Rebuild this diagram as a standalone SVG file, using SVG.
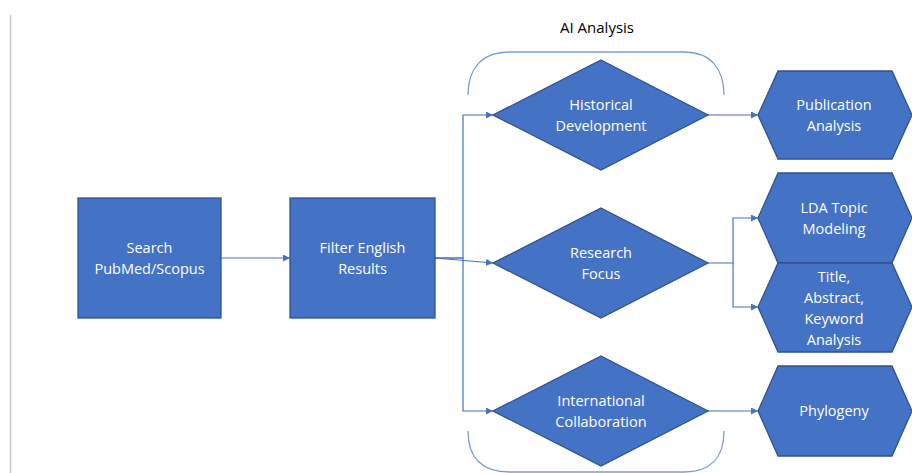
<svg xmlns="http://www.w3.org/2000/svg" width="912" height="473" viewBox="0 0 912 473">
<defs>
<marker id="ah" viewBox="0 0 10 10" refX="10" refY="5" markerWidth="7" markerHeight="7" markerUnits="userSpaceOnUse" orient="auto"><path d="M0,0 L10,5 L0,10 z" fill="#4472C4"/></marker>
<style>
.n{fill:#4472C4;stroke:#2F528F;stroke-width:1.3}
.t{font-family:"Open Sans","Noto Sans","Liberation Sans",sans-serif;font-size:14.5px;fill:#ffffff;text-anchor:middle}
.c{fill:none;stroke:#4472C4;stroke-width:1.2}
.b{fill:none;stroke:#7A9BD6;stroke-width:1.3}
</style>
</defs>
<rect width="912" height="473" fill="#ffffff"/>
<line x1="10.5" y1="15" x2="10.5" y2="473" stroke="#c8c8c8" stroke-width="1.5"/>
<text x="597" y="33" font-family="'Open Sans','Noto Sans','Liberation Sans',sans-serif" font-size="15" fill="#000" text-anchor="middle">AI Analysis</text>
<g id="braces">
<path class="b" d="M468,95 C468,68 482,52 510,52 L684,52 C710,52 724,68 724,95"/>
<path class="b" d="M468,431 C468,458 482,472 510,472 L684,472 C710,472 724,458 724,431"/>
</g>
<g id="connectors">
<path class="c" d="M221,258 L290,258" marker-end="url(#ah)"/>
<path class="c" d="M435,258 L463,258 L463,115 L493,115" marker-end="url(#ah)"/>
<path class="c" d="M435,258 L493,263" marker-end="url(#ah)"/>
<path class="c" d="M435,258 L463,258 L463,411 L493,411" marker-end="url(#ah)"/>
<path class="c" d="M708,115 L758,115" marker-end="url(#ah)"/>
<path class="c" d="M708,263 L733,263 L733,218 L758,218" marker-end="url(#ah)"/>
<path class="c" d="M733,263 L733,307 L758,307" marker-end="url(#ah)"/>
<path class="c" d="M708,411 L758,411" marker-end="url(#ah)"/>
</g>
<g id="search">
<rect class="n" x="78" y="198" width="143" height="120"/>
<text class="t" x="149.5" y="253">Search</text>
<text class="t" x="149.5" y="274">PubMed/Scopus</text>
</g>
<g id="filter">
<rect class="n" x="290" y="198" width="145" height="120"/>
<text class="t" x="362.5" y="253">Filter English</text>
<text class="t" x="362.5" y="274">Results</text>
</g>
<g id="historical">
<polygon class="n" points="601,60 708,115 601,170 493,115"/>
<text class="t" x="601" y="110">Historical</text>
<text class="t" x="601" y="131">Development</text>
</g>
<g id="research">
<polygon class="n" points="601,208 708,263 601,318 493,263"/>
<text class="t" x="601" y="258">Research</text>
<text class="t" x="601" y="279">Focus</text>
</g>
<g id="international">
<polygon class="n" points="601,356 708,411 601,466 493,411"/>
<text class="t" x="601" y="406">International</text>
<text class="t" x="601" y="427">Collaboration</text>
</g>
<g id="publication">
<polygon class="n" points="758,115 778,71 892,71 912,115 892,159 778,159"/>
<text class="t" x="834" y="110">Publication</text>
<text class="t" x="834" y="131">Analysis</text>
</g>
<g id="lda">
<polygon class="n" points="758,218 778,173 892,173 912,218 892,263 778,263"/>
<text class="t" x="834" y="213">LDA Topic</text>
<text class="t" x="834" y="234">Modeling</text>
</g>
<g id="title">
<polygon class="n" points="758,307 778,263 892,263 912,307 892,352 778,352"/>
<text class="t" x="834" y="282">Title,</text>
<text class="t" x="834" y="303">Abstract,</text>
<text class="t" x="834" y="324">Keyword</text>
<text class="t" x="834" y="345">Analysis</text>
</g>
<g id="phylogeny">
<polygon class="n" points="758,411 778,366 892,366 912,411 892,456 778,456"/>
<text class="t" x="834" y="416">Phylogeny</text>
</g>
</svg>
